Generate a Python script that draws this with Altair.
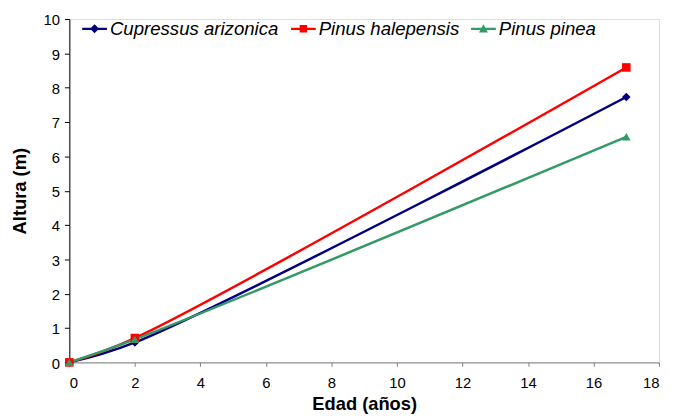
import altair as alt
import pandas as pd

edad = [0, 2, 17]
cupressus = [0, 0.58, 7.73]
halepensis = [0, 0.71, 8.59]
pinea = [0, 0.67, 6.57]

especies = ["Cupressus arizonica", "Pinus halepensis", "Pinus pinea"]
colores = ["#000080", "#FF0000", "#339966"]
formas = ["diamond", "square", "triangle-up"]

# legend symbols: short line with marker
leg_line = "M-1,-0.09L1,-0.09L1,0.09L-1,0.09Z"
leg_shapes = [
    leg_line + "M0,-0.36L0.36,0L0,0.36L-0.36,0Z",
    leg_line + "M-0.3,-0.3L0.3,-0.3L0.3,0.3L-0.3,0.3Z",
    leg_line + "M0,-0.36L0.36,0.3L-0.36,0.3Z",
]

rows = []
for nombre, serie in zip(especies, [cupressus, halepensis, pinea]):
    for e, v in zip(edad, serie):
        rows.append({"Edad": e, "Altura": v, "Especie": nombre})
df = pd.DataFrame(rows)

FONT = "Liberation Sans"

x = alt.X("Edad:Q", scale=alt.Scale(domain=[0, 18], nice=False),
          axis=alt.Axis(title="Edad (años)", values=list(range(0, 19, 2)), grid=False,
                        domainColor="#808080", tickColor="#808080", tickSize=4,
                        labelFontSize=15, labelPadding=9, labelColor="black",
                        titleFontSize=18.5, titleFontWeight="bold", titleColor="black",
                        titleY=33, labelFont=FONT, titleFont=FONT))
y = alt.Y("Altura:Q", scale=alt.Scale(domain=[0, 10], nice=False),
          axis=alt.Axis(title="Altura (m)", values=list(range(0, 11)), grid=False,
                        domainColor="black", tickColor="black", tickSize=5,
                        labelFontSize=15, labelPadding=5, labelColor="black", labelOffset=1,
                        titleFontSize=18.5, titleFontWeight="bold", titleColor="black",
                        titleX=-40, titleY=173.5, labelFont=FONT, titleFont=FONT))

color_plain = alt.Color("Especie:N", scale=alt.Scale(domain=especies, range=colores), legend=None)

lines = alt.Chart(df).mark_line(interpolate="catmull-rom", strokeWidth=2.5).encode(
    x=x, y=y, color=color_plain, order=alt.Order("Edad:Q"))

points = alt.Chart(df).mark_point(filled=True, size=75, opacity=1).encode(
    x=x, y=y, color=color_plain,
    shape=alt.Shape("Especie:N", scale=alt.Scale(domain=especies, range=formas), legend=None))

leg = dict(title=None, orient="none", direction="horizontal",
           legendX=13, legendY=-3, symbolSize=625, symbolStrokeWidth=0,
           labelFontSize=18.8, labelFontStyle="italic", labelColor="black",
           labelFont=FONT, labelOffset=3, columnPadding=12, labelLimit=400)

legend_layer = alt.Chart(df).transform_filter("datum.Edad < 0").mark_point(filled=True, opacity=1).encode(
    x=x, y=y,
    color=alt.Color("Especie:N", scale=alt.Scale(domain=especies, range=colores),
                    legend=alt.Legend(**leg)),
    shape=alt.Shape("Especie:N", scale=alt.Scale(domain=especies, range=leg_shapes),
                    legend=alt.Legend(**leg)))

chart = alt.layer(lines, points, legend_layer).resolve_scale(
    color="independent", shape="independent"
).properties(
    width=596, height=347,
    autosize=alt.AutoSizeParams(type="none"),
    padding={"left": 62, "top": 9, "right": 6, "bottom": 50},
).configure_view(stroke=None).configure(background="white")

chart.save("out.html", embed_options={"renderer": "svg", "actions": False})
